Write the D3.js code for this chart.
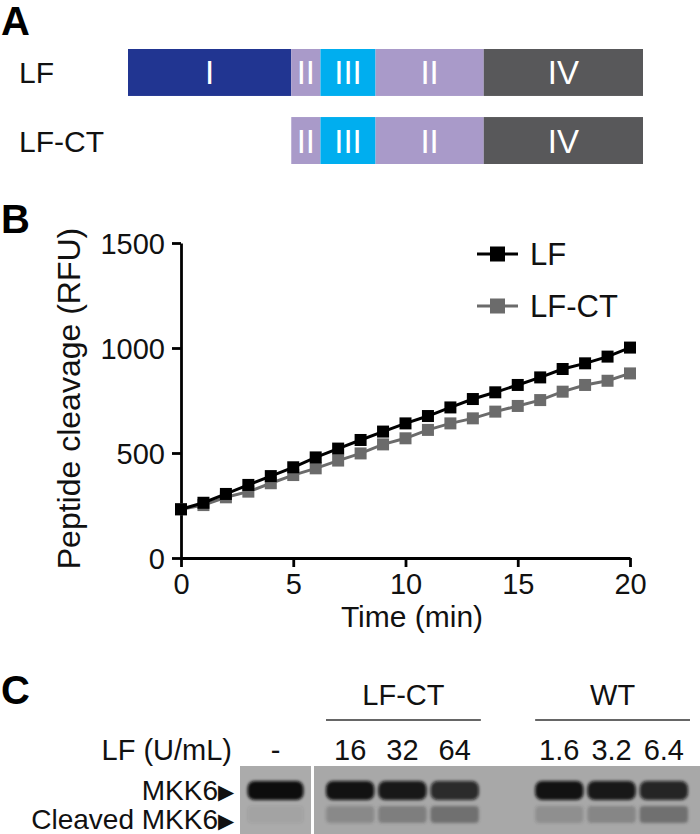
<!DOCTYPE html>
<html>
<head>
<meta charset="utf-8">
<script src="https://cdn.jsdelivr.net/npm/d3@7"></script>
<style>
  body { margin: 0; background: #fff; }
  svg { display: block; font-family: "Liberation Sans", Arial, Helvetica, sans-serif; }
</style>
</head>
<body>
<div id="chart"></div>
<script>
// ---- Panel A: domain maps (residue boundaries) ----
const constructs = ['LF', 'LF-CT'];
const lfDomains = ['I', 'II', 'III', 'II', 'IV'];
const lfBounds = [0, 246, 290, 373, 536, 776];
const lfctDomains = ['II', 'III', 'II', 'IV'];
const lfctBounds = [246, 290, 373, 536, 776];
const domainColors = { I: '#213591', II: '#a99ac9', III: '#00aeef', IV: '#58585a' };

// ---- Panel B: peptide cleavage time course ----
const timeMin = [0, 1, 2, 3, 4, 5, 6, 7, 8, 9, 10, 11, 12, 13, 14, 15, 16, 17, 18, 19, 20];
const lfValues = [232, 263, 305, 348, 390, 432, 479, 521, 562, 602, 641, 676, 717, 757, 789, 824, 860, 900, 927, 959, 1002];
const lfctValues = [232, 252, 289, 316, 356, 395, 427, 464, 498, 541, 570, 610, 641, 665, 697, 724, 752, 792, 824, 844, 879];
const yTicks = [0, 500, 1000, 1500];
const xTicks = [0, 5, 10, 15, 20];

// ---- Panel C: gel ----
const controlLane = '-';
const gelLanes = ['16', '32', '64', '', '1.6', '3.2', '6.4'];
const laneGroups = [
  { name: 'LF-CT', first: '16', last: '64' },
  { name: 'WT', first: '1.6', last: '6.4' }
];
// band darkness 0..1 : control lane first, then gelLanes
const mkk6Intensity = [1.0, 0.97, 0.93, 0.82, 0, 0.97, 0.93, 0.85];
const cleavedIntensity = [0.08, 0.28, 0.38, 0.52, 0, 0.22, 0.32, 0.52];

const W = 700, H = 834;
const svg = d3.select('#chart').append('svg')
  .attr('width', W)
  .attr('height', H);

// panel letters
[['A', 35], ['B', 233], ['C', 704]].forEach(([t, y]) => {
  svg.append('text')
    .attr('x', 1)
    .attr('y', y)
    .attr('font-size', '40px')
    .attr('font-weight', 'bold')
    .attr('fill', '#000')
    .text(t);
});

// ================= Panel A =================
const aX = d3.scaleLinear().domain([0, 776]).range([128, 643]);
const aY = d3.scaleBand().domain(constructs).range([49, 164]).paddingInner(0.31);

function drawConstruct(name, domains, bounds) {
  const g = svg.append('g');
  const y0 = aY(name), bh = aY.bandwidth();
  g.append('text')
    .attr('x', 19)
    .attr('y', y0 + bh / 2 + 11)
    .attr('font-size', '30px')
    .attr('fill', '#111')
    .text(name);
  domains.forEach((d, i) => {
    g.append('rect')
      .attr('x', aX(bounds[i]))
      .attr('y', y0)
      .attr('width', aX(bounds[i + 1]) - aX(bounds[i]))
      .attr('height', bh)
      .attr('fill', domainColors[d]);
    g.append('text')
      .attr('x', (aX(bounds[i]) + aX(bounds[i + 1])) / 2)
      .attr('y', y0 + bh / 2 + 12)
      .attr('text-anchor', 'middle')
      .attr('font-size', '33px')
      .attr('font-family', '"Liberation Sans Narrow", "Liberation Sans", Arial, sans-serif')
      .attr('fill', '#fff')
      .text(d);
  });
}
drawConstruct('LF', lfDomains, lfBounds);
drawConstruct('LF-CT', lfctDomains, lfctBounds);

// ================= Panel B =================
const x = d3.scaleLinear().domain([0, 20]).range([181, 630]);
const y = d3.scaleLinear().domain([0, 1500]).range([558, 243]);

const yAxis = svg.append('g')
  .attr('transform', `translate(${x(0)},0)`)
  .call(d3.axisLeft(y).tickValues(yTicks).tickFormat(d3.format('d'))
    .tickSize(9).tickSizeOuter(0).tickPadding(7));
const xAxis = svg.append('g')
  .attr('transform', `translate(0,${y(0)})`)
  .call(d3.axisBottom(x).tickValues(xTicks).tickFormat(d3.format('d'))
    .tickSize(9).tickSizeOuter(0).tickPadding(6));

[yAxis, xAxis].forEach(ax => {
  ax.selectAll('path, line').attr('stroke', '#000').attr('stroke-width', 2.8);
  ax.selectAll('text')
    .attr('font-size', '29px')
    .attr('font-family', '"Liberation Sans", Arial, sans-serif')
    .attr('fill', '#111');
});
yAxis.selectAll('text').attr('dy', '0.36em');

svg.append('text')
  .attr('transform', `translate(80,${(y(0) + y(1500)) / 2 - 2}) rotate(-90)`)
  .attr('text-anchor', 'middle')
  .attr('font-size', '32px')
  .attr('fill', '#111')
  .text('Peptide cleavage (RFU)');

svg.append('text')
  .attr('x', 412)
  .attr('y', 627)
  .attr('text-anchor', 'middle')
  .attr('font-size', '30px')
  .attr('fill', '#111')
  .text('Time (min)');

const series = [
  { name: 'LF-CT', values: lfctValues, color: '#6b6b6b' },
  { name: 'LF', values: lfValues, color: '#000' }
];

const line = d3.line()
  .x((d, i) => x(timeMin[i]))
  .y(d => y(d));

const ms = 12;
series.forEach(s => {
  svg.append('path')
    .datum(s.values)
    .attr('d', line)
    .attr('fill', 'none')
    .attr('stroke', s.color)
    .attr('stroke-width', 3);
  svg.append('g').selectAll('rect')
    .data(s.values)
    .join('rect')
    .attr('x', (d, i) => x(timeMin[i]) - ms / 2)
    .attr('y', d => y(d) - ms / 2)
    .attr('width', ms)
    .attr('height', ms)
    .attr('fill', s.color);
});

// legend
const legend = svg.append('g');
const legendItems = [series[1], series[0]];
legendItems.forEach((s, i) => {
  const ly = 254 + i * 52;
  legend.append('line')
    .attr('x1', 477).attr('x2', 518)
    .attr('y1', ly).attr('y2', ly)
    .attr('stroke', s.color)
    .attr('stroke-width', 3.2);
  legend.append('rect')
    .attr('x', 497.5 - 7.5).attr('y', ly - 7.5)
    .attr('width', 15).attr('height', 15)
    .attr('fill', s.color);
  legend.append('text')
    .attr('x', 530)
    .attr('y', ly + 11)
    .attr('font-size', '31px')
    .attr('fill', '#111')
    .text(s.name);
});

// ================= Panel C =================
const defs = svg.append('defs');
defs.append('filter').attr('id', 'blur')
  .attr('x', '-20%').attr('y', '-50%').attr('width', '140%').attr('height', '200%')
  .append('feGaussianBlur').attr('stdDeviation', 1.8);

const gelTop = 766, gelBottom = 834;
const leftPiece = [240, 311];
const laneX = d3.scaleBand().domain(gelLanes).range([324, 690]);

// group headers
laneGroups.forEach(gp => {
  const x1 = laneX(gp.first) + 2, x2 = laneX(gp.last) + laneX.bandwidth();
  svg.append('text')
    .attr('x', (x1 + x2) / 2)
    .attr('y', 705)
    .attr('text-anchor', 'middle')
    .attr('font-size', '29px')
    .attr('fill', '#111')
    .text(gp.name);
  svg.append('line')
    .attr('x1', x1).attr('x2', x2)
    .attr('y1', 720).attr('y2', 720)
    .attr('stroke', '#333')
    .attr('stroke-width', 1.6);
});

// lane labels
svg.append('text')
  .attr('x', 232).attr('y', 760)
  .attr('text-anchor', 'end')
  .attr('font-size', '29px')
  .attr('fill', '#111')
  .text('LF (U/mL)');

const laneCenters = [(leftPiece[0] + leftPiece[1]) / 2]
  .concat(gelLanes.map(l => laneX(l) + laneX.bandwidth() / 2));
const laneLabels = [controlLane].concat(gelLanes);

svg.append('g').selectAll('text')
  .data(laneLabels)
  .join('text')
  .attr('x', (d, i) => laneCenters[i])
  .attr('y', 760)
  .attr('text-anchor', 'middle')
  .attr('font-size', '29px')
  .attr('fill', '#111')
  .text(d => d);

// gel pieces
svg.append('rect')
  .attr('x', leftPiece[0]).attr('y', gelTop)
  .attr('width', leftPiece[1] - leftPiece[0]).attr('height', gelBottom - gelTop)
  .attr('fill', '#ababab');
svg.append('rect')
  .attr('x', 314).attr('y', gelTop)
  .attr('width', W - 314).attr('height', gelBottom - gelTop)
  .attr('fill', '#a8a8a8');

const bands = svg.append('g').attr('filter', 'url(#blur)');
const bandW = [56].concat(gelLanes.map(() => laneX.bandwidth() - 4));
laneCenters.forEach((cx, i) => {
  if (mkk6Intensity[i] > 0) {
    bands.append('rect')
      .attr('x', cx - bandW[i] / 2).attr('y', 781)
      .attr('width', bandW[i]).attr('height', 19)
      .attr('rx', 7)
      .attr('fill', '#0a0a0a')
      .attr('opacity', mkk6Intensity[i]);
  }
  if (cleavedIntensity[i] > 0) {
    bands.append('rect')
      .attr('x', cx - bandW[i] / 2).attr('y', 806)
      .attr('width', bandW[i]).attr('height', 17)
      .attr('rx', 4)
      .attr('fill', '#3a3a3a')
      .attr('opacity', cleavedIntensity[i]);
  }
});

// band labels with arrowheads
[['MKK6', 800], ['Cleaved MKK6', 829]].forEach(([t, yy]) => {
  const txt = svg.append('text')
    .attr('x', 234).attr('y', yy)
    .attr('text-anchor', 'end')
    .attr('font-size', '28px')
    .attr('fill', '#111');
  txt.append('tspan').text(t);
  txt.append('tspan').attr('font-size', '21px').attr('dy', -1).text('\u25B6');
});
</script>
</body>
</html>
